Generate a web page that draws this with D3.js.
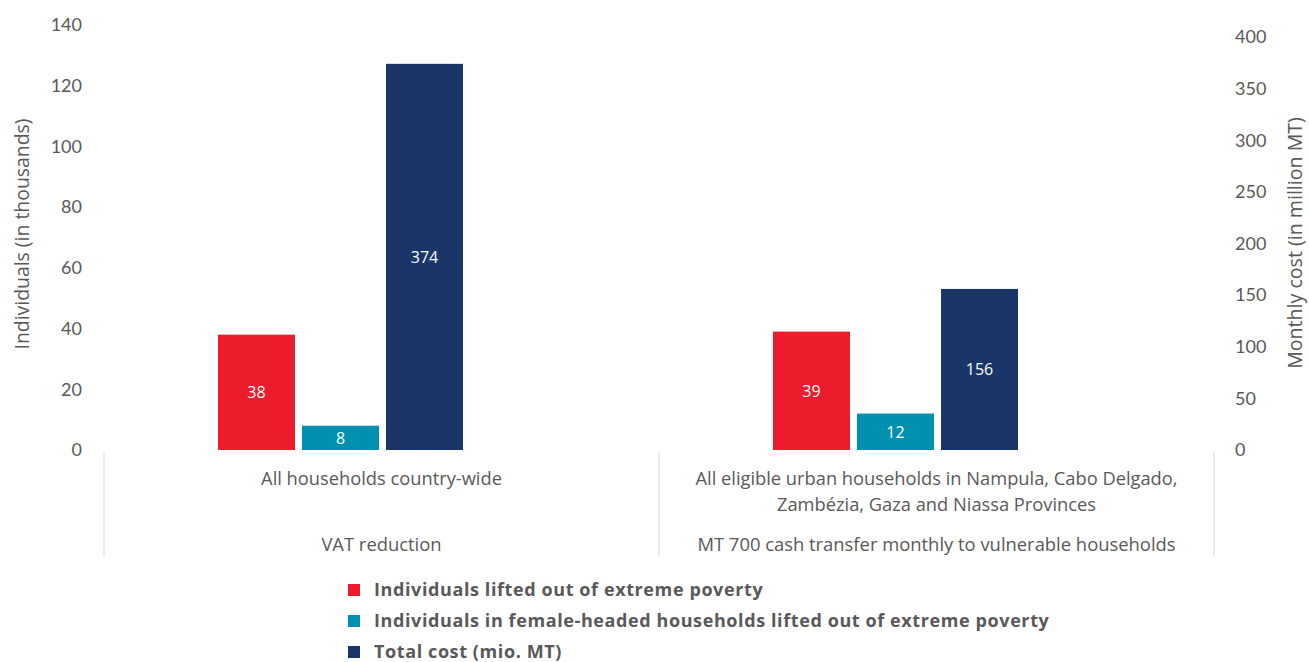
<!DOCTYPE html>
<html>
<head>
<meta charset="utf-8">
<script src="https://cdn.jsdelivr.net/npm/d3@7"></script>
<style>
  html, body { margin: 0; padding: 0; background: #fff; }
  svg { display: block; font-family: "Open Sans", Lato, sans-serif; }
</style>
</head>
<body>
<svg id="chart" width="1309" height="662"></svg>
<script>
// Programme options (two-level category labels)
const programmes = ["VAT reduction", "MT 700 cash transfer monthly to vulnerable households"];
const coverage = [
  ["All households country-wide"],
  ["All eligible urban households in Nampula, Cabo Delgado,", "Zambézia, Gaza and Niassa Provinces"]
];

// Series
const seriesNames = [
  "Individuals lifted out of extreme poverty",
  "Individuals in female-headed households lifted out of extreme poverty",
  "Total cost (mio. MT)"
];
const liftedOut = [38, 39];          // thousands, left axis
const femaleHeaded = [8, 12];        // thousands, left axis
const totalCost = [374, 156];        // million MT, right axis
const seriesColors = ["#EC1C2D", "#0091B1", "#1A3668"];

// Axis ticks
const leftTicks = [0, 20, 40, 60, 80, 100, 120, 140];
const rightTicks = [0, 50, 100, 150, 200, 250, 300, 350, 400];

const svg = d3.select("#chart");
const textColor = "#595959";

const plotLeft = 104, plotRight = 1214, baseY = 450;

const x0 = d3.scaleBand().domain(programmes).range([plotLeft, plotRight]).padding(0);
const x1 = d3.scaleBand().domain(seriesNames).range([114, 359]).paddingInner(7 / 84).paddingOuter(0);
const yLeft = d3.scaleLinear().domain([0, 140]).range([baseY, 25]);
const yRight = d3.scaleLinear().domain([0, 400]).range([baseY, 37]);

// Left axis
const leftAxis = svg.append("g")
  .attr("transform", "translate(84,0)")
  .call(d3.axisLeft(yLeft).tickValues(leftTicks).tickSize(0).tickPadding(2));
leftAxis.select(".domain").remove();
leftAxis.selectAll("text").attr("fill", textColor)
  .style("font-family", "Lato, sans-serif").style("font-size", "18px");

// Right axis
const rightAxis = svg.append("g")
  .attr("transform", "translate(1233,0)")
  .call(d3.axisRight(yRight).tickValues(rightTicks).tickSize(0).tickPadding(2));
rightAxis.select(".domain").remove();
rightAxis.selectAll("text").attr("fill", textColor)
  .style("font-family", "Lato, sans-serif").style("font-size", "18px");

// Axis titles
svg.append("text")
  .attr("transform", "translate(29,234) rotate(-90)")
  .attr("text-anchor", "middle")
  .attr("fill", textColor)
  .style("font-size", "19.4px")
  .text("Individuals (in thousands)");
svg.append("text")
  .attr("transform", "translate(1302,243) rotate(-90)")
  .attr("text-anchor", "middle")
  .attr("fill", textColor)
  .style("font-size", "19.6px")
  .text("Monthly cost (in million MT)");

// Bars
const rows = programmes.map((p, i) => [
  { prog: p, name: seriesNames[0], value: liftedOut[i], scale: yLeft, color: seriesColors[0] },
  { prog: p, name: seriesNames[1], value: femaleHeaded[i], scale: yLeft, color: seriesColors[1] },
  { prog: p, name: seriesNames[2], value: totalCost[i], scale: yRight, color: seriesColors[2] }
]);

const groups = svg.append("g").selectAll("g")
  .data(rows)
  .join("g")
  .attr("transform", (d, i) => `translate(${x0(programmes[i])},0)`);

groups.selectAll("rect")
  .data(d => d)
  .join("rect")
  .attr("x", d => x1(d.name))
  .attr("width", x1.bandwidth())
  .attr("y", d => d.scale(d.value))
  .attr("height", d => baseY - d.scale(d.value))
  .attr("fill", d => d.color);

groups.selectAll("text.val")
  .data(d => d)
  .join("text")
  .attr("class", "val")
  .attr("x", d => x1(d.name) + x1.bandwidth() / 2)
  .attr("y", d => (d.scale(d.value) + baseY) / 2)
  .attr("dy", "0.36em")
  .attr("text-anchor", "middle")
  .attr("fill", "#fff")
  .style("font-size", "16px")
  .text(d => d.value);

// Category separators
const sepX = [plotLeft, ...programmes.map(p => x0(p) + x0.bandwidth())];
svg.append("g").selectAll("line")
  .data(sepX)
  .join("line")
  .attr("x1", d => d).attr("x2", d => d)
  .attr("y1", 452).attr("y2", 557)
  .attr("stroke", "#d9d9d9")
  .attr("stroke-width", 1);

// Category labels: coverage row, then programme row
programmes.forEach((p, i) => {
  const cx = x0(p) + x0.bandwidth() / 2;
  coverage[i].forEach((line, j) => {
    svg.append("text")
      .attr("x", cx)
      .attr("y", 479 + j * 26)
      .attr("dy", "0.35em")
      .attr("text-anchor", "middle")
      .attr("fill", textColor)
      .style("font-size", "18.3px")
      .text(line);
  });
  svg.append("text")
    .attr("x", cx)
    .attr("y", 545)
    .attr("dy", "0.35em")
    .attr("text-anchor", "middle")
    .attr("fill", textColor)
    .style("font-size", "18.4px")
    .text(p);
});

// Legend
const legend = svg.append("g").selectAll("g")
  .data(seriesNames)
  .join("g")
  .attr("transform", (d, i) => `translate(348,${590 + i * 31})`);
legend.append("rect")
  .attr("x", 0).attr("y", -6)
  .attr("width", 12).attr("height", 12)
  .attr("fill", (d, i) => seriesColors[i]);
legend.append("text")
  .attr("x", 26)
  .attr("dy", "0.35em")
  .attr("fill", textColor)
  .style("font-size", "18px")
  .style("font-weight", "bold")
  .style("letter-spacing", "0.6px")
  .text(d => d);
</script>
</body>
</html>
